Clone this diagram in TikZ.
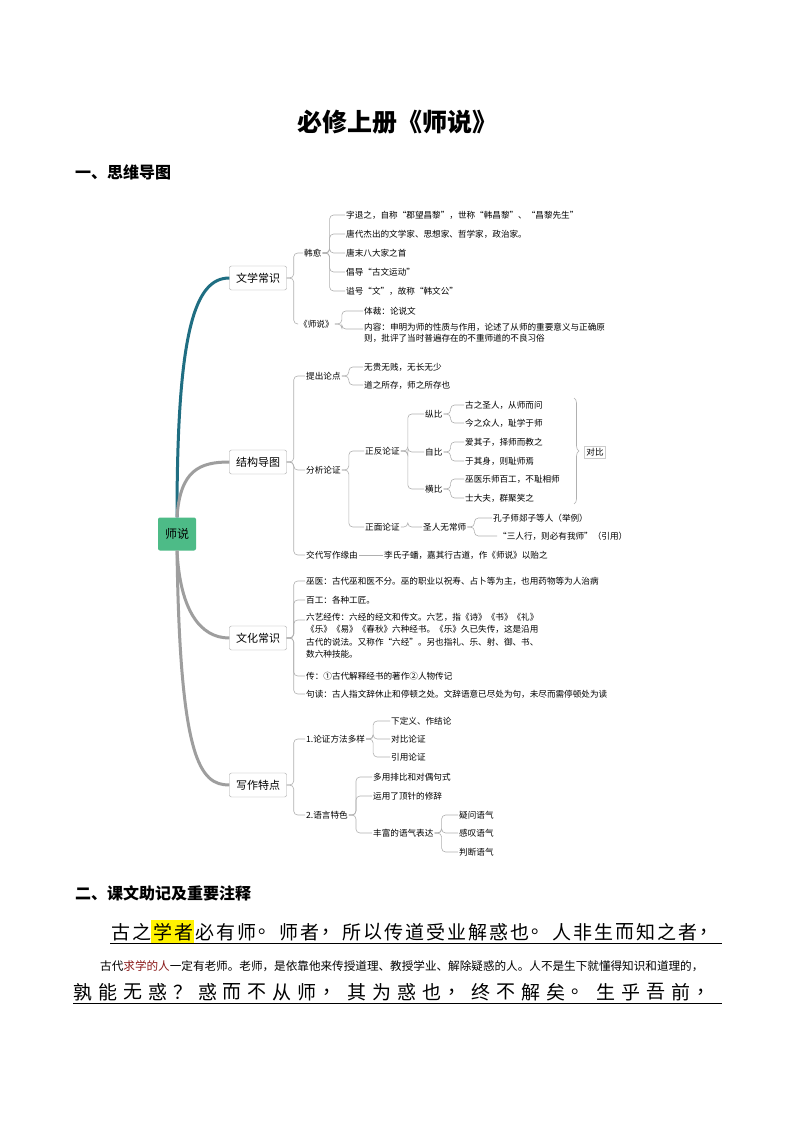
\documentclass[tikz,border=0pt]{standalone}
\usepackage{fontspec}
\setmainfont{Noto Sans CJK SC}
\usetikzlibrary{decorations.pathreplacing,calc}
\definecolor{rootg}{HTML}{4DBB87}
\definecolor{teal1}{HTML}{1F6E82}
\definecolor{br}{HTML}{B0B0B0}
\definecolor{darkred}{HTML}{8B1A1A}
\tikzset{
 lone/.style={draw=gray!70,rounded corners=2pt,fill=white,minimum width=57pt,minimum height=24pt,font=\fontsize{11}{12}\selectfont,inner sep=2pt},
 leaf/.style={anchor=west,font=\fontsize{8.6}{11}\selectfont,inner sep=1pt,align=left},
 br/.style={draw=br,line width=0.6pt,rounded corners=4pt},
 big/.style={line width=3pt,draw=br!90!black}
}
\newcommand{\conn}[2]{\draw[br] (#1.east) -- ++(7,0) |- (#2.west);}
\begin{document}
\begin{tikzpicture}[x=1pt,y=-1pt]
\useasboundingbox (0,0) rectangle (794,1123);
\fill[white] (0,0) rectangle (794,1123);
\node[font=\fontsize{25}{28}\selectfont\bfseries] (title) at (397,122) {必修上册《师说》};
\node[anchor=west,font=\fontsize{16}{18}\selectfont\bfseries,inner sep=0] (h1) at (75,172) {一、思维导图};
% root
\node[fill=rootg,rounded corners=2pt,minimum width=38pt,minimum height=33pt,font=\fontsize{12}{14}\selectfont] (root) at (177,534) {师说};
\node[lone] (a) at (258,278) {文学常识};
\node[lone] (b) at (258,462) {结构导图};
\node[lone] (c) at (258,638) {文化常识};
\node[lone] (d) at (258,785) {写作特点};
\draw[line width=3pt,teal1] (root.north) .. controls (177,330) and (195,278) .. (a.west);
\draw[big] (root.north) .. controls (180,470) and (200,462) .. (b.west);
\draw[big] (root.south) .. controls (180,610) and (200,638) .. (c.west);
\draw[big] (root.south) .. controls (180,760) and (200,785) .. (d.west);
% A
\node[leaf] (a1) at (303,253) {韩愈};
\node[leaf] (a2) at (298,324) {《师说》};
\conn{a}{a1}\conn{a}{a2}
\node[leaf] (a11) at (345,215) {字退之，自称“郡望昌黎”，世称“韩昌黎”、“昌黎先生”};
\node[leaf] (a12) at (345,234) {唐代杰出的文学家、思想家、哲学家，政治家。};
\node[leaf] (a13) at (345,253) {唐末八大家之首};
\node[leaf] (a14) at (345,272) {倡导“古文运动”};
\node[leaf] (a15) at (345,291) {谥号“文”，故称“韩文公”};
\foreach \k in {a11,a12,a13,a14,a15}{\conn{a1}{\k}}
\node[leaf] (a21) at (363,311) {体裁：论说文};
\node[leaf,anchor=north west] (a22) at (363,322) {内容：申明为师的性质与作用，论述了从师的重要意义与正确原\\则，批评了当时普遍存在的不重师道的不良习俗};
\conn{a2}{a21}
\draw[br] (a2.east) -- ++(7,0) |- ($(a22.north west)+(0,7)$);
% B
\node[leaf] (b1) at (305,376) {提出论点};
\node[leaf] (b2) at (305,470) {分析论证};
\node[leaf] (b3) at (305,555) {交代写作缘由};
\conn{b}{b1}\conn{b}{b2}\conn{b}{b3}
\node[leaf] (b11) at (363,367) {无贵无贱，无长无少};
\node[leaf] (b12) at (363,385) {道之所存，师之所存也};
\conn{b1}{b11}\conn{b1}{b12}
\node[leaf] (b21) at (364,451) {正反论证};
\node[leaf] (b22) at (364,527) {正面论证};
\conn{b2}{b21}\conn{b2}{b22}
\node[leaf] (z1) at (424,414) {纵比};
\node[leaf] (z2) at (424,452) {自比};
\node[leaf] (z3) at (424,489) {横比};
\conn{b21}{z1}\conn{b21}{z2}\conn{b21}{z3}
\node[leaf] (z11) at (464,405) {古之圣人，从师而问};
\node[leaf] (z12) at (464,423) {今之众人，耻学于师};
\node[leaf] (z21) at (464,442) {爱其子，择师而教之};
\node[leaf] (z22) at (464,461) {于其身，则耻师焉};
\node[leaf] (z31) at (464,479) {巫医乐师百工，不耻相师};
\node[leaf] (z32) at (464,498) {士大夫，群聚笑之};
\conn{z1}{z11}\conn{z1}{z12}\conn{z2}{z21}\conn{z2}{z22}\conn{z3}{z31}\conn{z3}{z32}
\draw[br,rounded corners=0pt,decorate,decoration={brace,amplitude=5pt}] (574,398) -- (574,504);
\node[draw=gray!40,font=\fontsize{8.6}{10}\selectfont,inner sep=2pt] (db) at (595,452) {对比};
\node[leaf] (s1) at (422,527) {圣人无常师};
\conn{b22}{s1}
\node[leaf] (s11) at (492,518) {孔子师郯子等人（举例）};
\node[leaf] (s12) at (497,536) {“三人行，则必有我师”（引用）};
\conn{s1}{s11}\conn{s1}{s12}
\node[leaf] (b31) at (383,555) {李氏子蟠，嘉其行古道，作《师说》以贻之};
\draw[br] (b3.east) -- (b31.west);
% C
\node[leaf] (c1) at (305,581) {巫医：古代巫和医不分。巫的职业以祝寿、占卜等为主，也用药物等为人治病};
\node[leaf] (c2) at (305,600) {百工：各种工匠。};
\node[leaf,anchor=north west,font=\fontsize{8.6}{12.4}\selectfont] (c3) at (305,612) {六艺经传：六经的经文和传文。六艺，指《诗》《书》《礼》\\《乐》《易》《春秋》六种经书。《乐》久已失传，这是沿用\\古代的说法。又称作“六经”。另也指礼、乐、射、御、书、\\数六种技能。};
\node[leaf] (c4) at (305,676) {传：①古代解释经书的著作②人物传记};
\node[leaf] (c5) at (305,694) {句读：古人指文辞休止和停顿之处。文辞语意已尽处为句，未尽而需停顿处为读};
\conn{c}{c1}\conn{c}{c2}\conn{c}{c4}\conn{c}{c5}
\draw[br] (c.east) -- ++(7,0) |- ($(c3.north west)+(0,8)$);
% D
\node[leaf] (d1) at (305,739) {1.论证方法多样};
\node[leaf] (d2) at (305,815) {2.语言特色};
\conn{d}{d1}\conn{d}{d2}
\node[leaf] (d11) at (390,721) {下定义、作结论};
\node[leaf] (d12) at (390,739) {对比论证};
\node[leaf] (d13) at (390,757) {引用论证};
\foreach \k in {d11,d12,d13}{\conn{d1}{\k}}
\node[leaf] (d21) at (372,777) {多用排比和对偶句式};
\node[leaf] (d22) at (372,796) {运用了顶针的修辞};
\node[leaf] (d23) at (372,833) {丰富的语气表达};
\foreach \k in {d21,d22,d23}{\conn{d2}{\k}}
\node[leaf] (d231) at (458,815) {疑问语气};
\node[leaf] (d232) at (458,833) {感叹语气};
\node[leaf] (d233) at (458,852) {判断语气};
\foreach \k in {d231,d232,d233}{\conn{d23}{\k}}
% section 2
\node[anchor=west,font=\fontsize{16}{18}\selectfont\bfseries,inner sep=0] (h2) at (75,893) {二、课文助记及重要注释};
\fill[yellow] (151,920) rectangle (194,944);
\foreach \ch [count=\i] in {古,之,学,者,必,有,师,。,师,者,，,所,以,传,道,受,业,解,惑,也,。,人,非,生,而,知,之,者,，}{
  \node[font=\fontsize{19}{20}\selectfont,inner sep=0] (p\i) at ({110+10.5+21*(\i-1)},932) {\ch};
}
\draw[line width=0.8pt] (110,943) -- (722,943);
\node[anchor=west,inner sep=0,font=\fontsize{11.6}{13}\selectfont] (tr) at (100,966) {古代\textcolor{darkred}{求学的人}一定有老师。老师，是依靠他来传授道理、教授学业、解除疑惑的人。人不是生下就懂得知识和道理的，};
\foreach \ch [count=\i] in {孰,能,无,惑,？,惑,而,不,从,师,，,其,为,惑,也,，,终,不,解,矣,。,生,乎,吾,前,，}{
  \node[font=\fontsize{19}{20}\selectfont,inner sep=0] (q\i) at ({73+10+24.9*(\i-1)},992) {\ch};
}
\draw[line width=0.8pt] (73,1003) -- (722,1003);
\end{tikzpicture}
\end{document}
